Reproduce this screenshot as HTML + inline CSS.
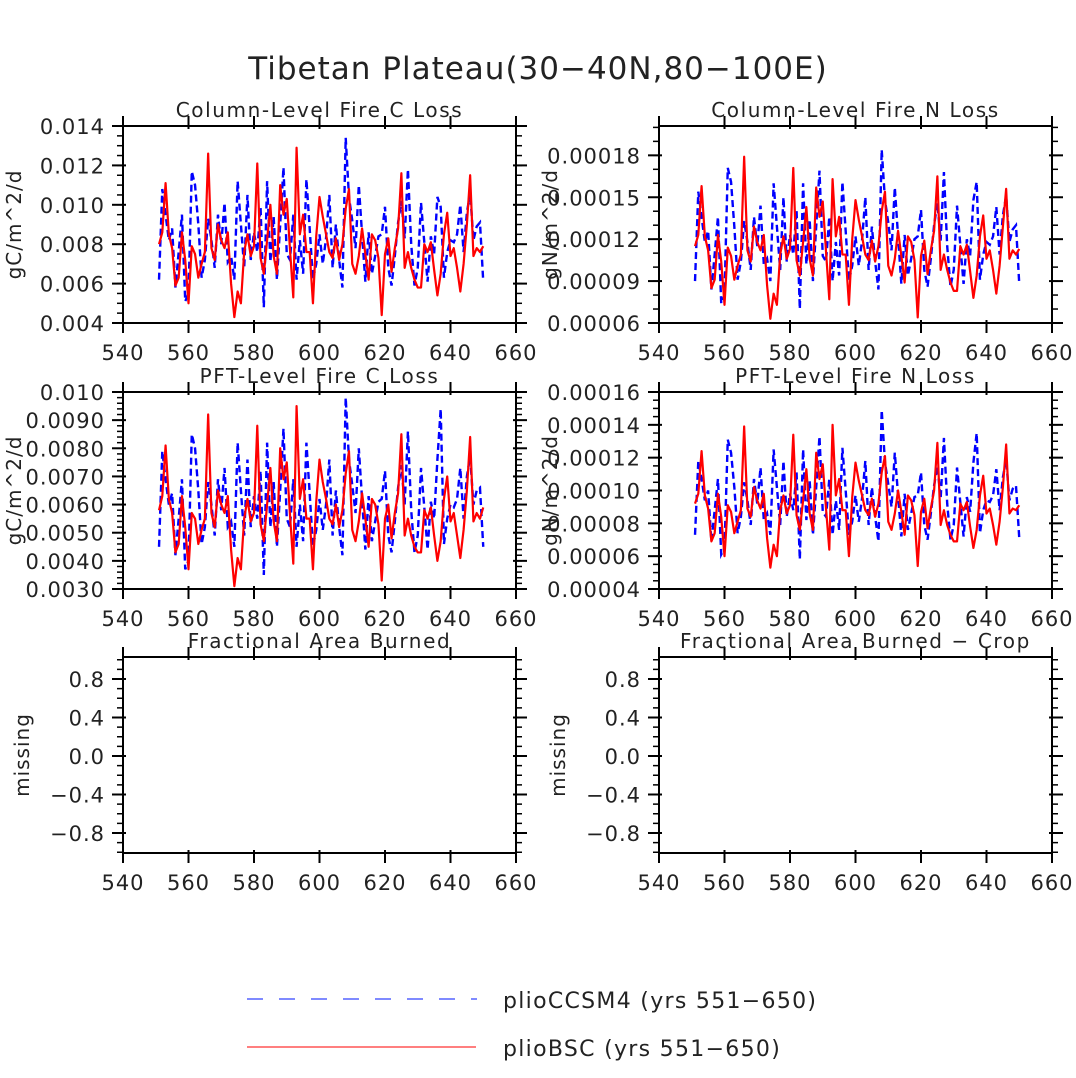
<!DOCTYPE html>
<html><head><meta charset="utf-8"><style>
body{margin:0;background:#fff}
svg{display:block;font-family:"DejaVu Sans","Liberation Sans",sans-serif}
</style></head><body>
<svg id="c" width="1076" height="1078" viewBox="0 0 1076 1078">
<text x="538" y="79" text-anchor="middle" font-size="31" fill="#222" letter-spacing="1">Tibetan Plateau(30−40N,80−100E)</text>
<g id="panels"></g>
<g>
<line x1="247" y1="999" x2="477" y2="999" stroke="#3344ff" stroke-width="1.3" stroke-dasharray="16,16"/>
<text x="503" y="1008" font-size="22" fill="#222" letter-spacing="1.3">plioCCSM4 (yrs 551−650)</text>
<line x1="247" y1="1047" x2="476" y2="1047" stroke="#ff3333" stroke-width="1.3"/>
<text x="503" y="1056" font-size="22" fill="#222" letter-spacing="1.3">plioBSC (yrs 551−650)</text>
</g>
</svg>
<script>
const years = Array.from({length:100},(_,i)=>551+i);
const xTicks = [540,560,580,600,620,640,660];
// Panel 1: Column-level fire C loss (x1e-3)
const p1Red = [8.0,8.6,11.1,8.5,7.8,5.9,6.3,8.6,7.2,5.0, 7.9,7.5,6.3,7.0,7.6,12.6,7.8,7.2,9.0,8.2, 7.8,8.6,6.0,4.3,5.6,5.0,7.6,8.5,7.4,7.9, 12.1,7.3,6.5,8.2,10.0,7.4,6.5,11.0,9.5,10.3, 7.7,5.3,12.9,8.5,9.5,7.6,7.6,5.0,8.4,10.4, 9.4,8.5,7.6,7.3,8.3,7.2,8.0,9.8,10.8,7.0, 6.5,7.4,8.8,7.5,6.2,8.5,8.2,7.3,4.4,7.5, 8.3,6.6,7.8,8.8,11.6,6.8,7.6,6.8,6.2,5.8, 5.8,8.0,7.6,8.1,6.7,5.4,6.5,8.5,9.6,7.4, 7.8,6.8,5.6,7.0,9.0,11.5,7.4,7.8,7.6,7.9];
const p1Blue = [6.2,10.8,9.5,8.2,8.8,5.8,7.6,9.5,5.1,5.5, 11.7,11.0,9.0,6.3,7.2,9.3,8.2,6.8,9.5,8.0, 10.1,7.1,7.4,6.2,11.2,9.0,6.8,10.5,7.2,8.6, 7.6,9.9,4.8,11.2,7.1,9.4,6.2,9.0,11.9,7.5, 7.2,9.5,6.2,8.2,6.5,11.3,8.8,6.2,7.0,8.5, 7.0,8.3,10.5,6.8,9.0,7.2,5.8,13.4,10.4,9.2, 7.8,11.0,8.5,6.1,8.6,6.5,7.4,8.4,8.5,9.9, 6.8,5.9,7.4,9.1,10.2,8.3,11.8,8.0,5.9,6.8, 10.1,8.1,6.1,8.4,7.5,10.4,9.9,6.3,7.6,8.2, 8.1,8.5,10.0,7.6,9.6,10.6,8.2,8.9,9.1,6.1];
const p1Ticks = ["0.004","0.006","0.008","0.010","0.012","0.014"];
// Panel 2: Column-level fire N loss (x1e-5)
const p2Red = [11.5,12.3,15.8,12.2,11.2,8.5,9.1,12.3,10.4,7.3, 11.4,10.8,9.1,10.1,10.9,17.9,11.2,10.4,12.9,11.8, 11.2,12.3,8.7,6.3,8.1,7.3,10.9,12.2,10.6,11.3, 17.1,10.5,9.4,11.8,14.3,10.6,9.4,15.7,13.6,14.7, 11.1,7.7,16.3,12.2,13.6,10.9,10.9,7.3,12.0,14.8, 13.4,12.2,10.9,10.5,11.9,10.4,11.5,14.0,15.4,10.1, 9.4,10.6,12.6,10.8,8.9,12.2,11.8,10.5,6.4,10.8, 11.9,9.5,11.2,12.6,16.5,9.8,10.9,9.8,8.9,8.3, 8.3,11.5,10.9,11.6,9.7,7.8,9.4,12.2,13.7,10.6, 11.2,9.8,8.1,10.1,12.9,15.6,10.6,11.2,10.9,11.3];
const p2Blue = [9.0,15.4,13.6,11.8,12.6,8.4,10.9,13.6,7.4,8.0, 17.1,16.1,12.9,9.1,10.4,13.3,11.8,9.8,13.6,11.5, 14.4,10.2,10.6,9.0,16.0,12.9,9.8,15.0,10.4,12.3, 10.9,14.1,7.0,16.0,10.2,13.4,9.0,12.9,16.9,10.8, 10.4,13.6,9.0,11.8,9.4,16.1,12.6,9.0,10.1,12.2, 10.1,11.9,15.0,9.8,12.9,10.4,8.4,18.4,14.8,13.2, 11.2,15.7,12.2,8.8,12.3,9.4,10.6,12.0,12.2,14.1, 9.8,8.6,10.6,13.0,14.6,11.9,16.8,11.5,8.6,9.8, 14.4,11.6,8.8,12.0,10.8,14.8,16.1,9.1,10.9,11.8, 11.6,12.2,14.3,10.9,13.7,15.1,11.8,12.7,13.0,8.8];
const p2Ticks = ["0.00006","0.00009","0.00012","0.00015","0.00018"];
// Panel 3: PFT-level fire C loss (x1e-3)
const p3Red = [5.8,6.3,8.1,6.2,5.7,4.3,4.6,6.3,5.2,3.7, 5.7,5.5,4.6,5.1,5.5,9.2,5.7,5.2,6.5,6.0, 5.7,6.3,4.4,3.1,4.1,3.7,5.5,6.2,5.4,5.7, 8.8,5.3,4.7,6.0,7.3,5.4,4.7,8.0,6.9,7.5, 5.6,3.9,9.5,6.2,6.9,5.5,5.5,3.7,6.1,7.6, 6.8,6.2,5.5,5.3,6.0,5.2,5.8,7.1,7.9,5.1, 4.7,5.4,6.4,5.5,4.5,6.2,6.0,5.3,3.3,5.5, 6.0,4.8,5.7,6.4,8.5,4.9,5.5,4.9,4.5,4.3, 4.3,5.8,5.5,5.9,4.9,4.0,4.7,6.2,7.0,5.4, 5.7,4.9,4.1,5.1,6.5,8.4,5.4,5.7,5.5,5.9];
const p3Blue = [4.5,7.9,6.9,6.0,6.4,4.2,5.5,6.9,3.7,4.0, 8.5,8.0,6.5,4.6,5.2,6.8,6.0,4.9,6.9,5.8, 7.3,5.2,5.4,4.5,8.2,6.5,4.9,7.6,5.2,6.3, 5.5,7.2,3.5,8.2,5.2,6.8,4.5,6.5,8.7,5.5, 5.2,6.9,4.5,6.0,4.7,8.2,6.4,4.5,5.1,6.2, 5.1,6.0,7.6,4.9,6.5,5.2,4.2,9.8,7.6,6.7, 5.7,8.0,6.2,4.4,6.3,4.7,5.4,6.1,6.2,7.2, 4.9,4.3,5.4,6.6,7.4,6.0,8.6,5.8,4.3,4.9, 7.3,5.9,4.4,6.1,5.5,7.6,9.4,4.6,5.5,6.0, 5.9,6.2,7.3,5.5,7.0,7.7,6.0,6.5,6.6,4.5];
const p3Ticks = ["0.0030","0.0040","0.0050","0.0060","0.0070","0.0080","0.0090","0.010"];
// Panel 4: PFT-level fire N loss (x1e-5)
const p4Red = [9.2,9.8,12.4,9.7,8.9,6.9,7.4,9.8,8.4,6.0, 9.1,8.7,7.4,8.1,8.8,13.9,8.9,8.4,10.2,9.4, 8.9,9.8,7.1,5.3,6.7,6.0,8.8,9.7,8.6,9.1, 13.4,8.5,7.6,9.4,11.3,8.6,7.6,12.3,10.7,11.6, 8.9,6.4,14.0,9.7,10.7,8.8,8.8,6.0,9.6,11.7, 10.6,9.7,8.8,8.5,9.5,8.4,9.2,11.1,12.1,8.1, 7.6,8.6,10.0,8.7,7.3,9.7,9.4,8.5,5.4,8.7, 9.5,7.7,8.9,10.0,12.9,7.9,8.8,7.9,7.3,6.9, 6.9,9.2,8.8,9.3,7.8,6.5,7.6,9.7,10.9,8.6, 8.9,7.9,6.7,8.1,10.2,12.8,8.6,8.9,8.8,9.1];
const p4Blue = [7.3,11.8,10.7,9.4,10.0,6.9,8.8,10.7,6.1,6.5, 13.1,12.3,10.2,7.4,8.4,10.5,9.4,7.9,10.7,9.2, 11.4,8.2,8.6,7.3,12.5,10.2,7.9,11.8,8.4,9.8, 8.8,11.1,5.8,12.5,8.2,10.6,7.3,10.2,13.3,8.7, 8.4,10.7,7.3,9.4,7.6,12.6,10.0,7.3,8.1,9.7, 8.1,9.5,11.8,7.9,10.2,8.4,6.9,14.9,11.7,10.4, 9.0,12.3,9.7,7.2,9.8,7.6,8.6,9.6,9.7,11.1, 7.9,7.0,8.6,10.3,11.5,9.5,13.2,9.2,7.0,7.9, 11.4,9.3,7.2,9.6,8.7,11.7,13.5,7.4,8.8,9.4, 9.3,9.7,11.3,8.8,10.8,11.9,9.4,10.1,10.3,7.1];
const p4Ticks = ["0.00004","0.00006","0.00008","0.00010","0.00012","0.00014","0.00016"];
const p5Ticks = ["−0.8","−0.4","0.0","0.4","0.8"];

const NS="http://www.w3.org/2000/svg";
const root=document.getElementById('panels');
function mk(tag,attrs,parent){const e=document.createElementNS(NS,tag);for(const k in attrs)e.setAttribute(k,attrs[k]);parent.appendChild(e);return e;}

const panels=[
 {key:'column-c',title:'Column-Level Fire C Loss',ylab:'gC/m^2/d',x0:123,top:126,bot:323,ymin:4,ymax:14,tickVals:[4,6,8,10,12,14],ticks:p1Ticks,minor:0.5,red:p1Red,blue:p1Blue},
 {key:'column-n',title:'Column-Level Fire N Loss',ylab:'gN/m^2/d',x0:659,top:126,bot:323,ymin:6,ymax:20.1,tickVals:[6,9,12,15,18],ticks:p2Ticks,minor:1,red:p2Red,blue:p2Blue},
 {key:'pft-c',title:'PFT-Level Fire C Loss',ylab:'gC/m^2/d',x0:123,top:392,bot:589,ymin:3,ymax:10,tickVals:[3,4,5,6,7,8,9,10],ticks:p3Ticks,minor:0.2,red:p3Red,blue:p3Blue},
 {key:'pft-n',title:'PFT-Level Fire N Loss',ylab:'gN/m^2/d',x0:659,top:392,bot:589,ymin:4,ymax:16,tickVals:[4,6,8,10,12,14,16],ticks:p4Ticks,minor:0.5,red:p4Red,blue:p4Blue},
 {key:'area-burned',title:'Fractional Area Burned',ylab:'missing',x0:123,top:657,bot:853,ymin:-1.0078,ymax:1.0286,tickVals:[-0.8,-0.4,0,0.4,0.8],ticks:p5Ticks,minor:0.1,red:null,blue:null},
 {key:'area-burned-crop',title:'Fractional Area Burned − Crop',ylab:'missing',x0:659,top:657,bot:853,ymin:-1.0078,ymax:1.0286,tickVals:[-0.8,-0.4,0,0.4,0.8],ticks:p5Ticks,minor:0.1,red:null,blue:null}
];
const W=393;
panels.forEach(p=>{
 const g=mk('g',{},root);
 
 
 const xs=v=>p.x0+(v-540)/120*W;
 const ys=v=>p.bot-(v-p.ymin)/(p.ymax-p.ymin)*(p.bot-p.top);
 const x1=p.x0+W;
 const clipId='clip-'+p.key;
 const cp=mk('clipPath',{id:clipId},g);mk('rect',{x:p.x0,y:p.top,width:W,height:p.bot-p.top},cp);
 if(p.blue){
  const pl=mk('polyline',{points:p.blue.map((v,i)=>xs(years[i])+','+ys(v)).join(' '),fill:'none',stroke:'#0000ff','stroke-width':2.4,'stroke-dasharray':'7,4','clip-path':'url(#'+clipId+')'},g);
  
  
 }
 if(p.red){
  const pl=mk('polyline',{points:p.red.map((v,i)=>xs(years[i])+','+ys(v)).join(' '),fill:'none',stroke:'#ff0000','stroke-width':2.2,'stroke-linejoin':'round','clip-path':'url(#'+clipId+')'},g);
  
  
 }
 const fr=mk('rect',{x:p.x0,y:p.top,width:W,height:p.bot-p.top,fill:'none',stroke:'#000','stroke-width':2},g);
 
 
 for(let v=540;v<=660;v+=20){
  const x=xs(v);
  mk('line',{x1:x,y1:p.bot-3,x2:x,y2:p.bot+10,stroke:'#000','stroke-width':2},g);
  mk('line',{x1:x,y1:p.top+3,x2:x,y2:p.top-10,stroke:'#000','stroke-width':2},g);
 }
 xTicks.forEach(v=>{
  const t=mk('text',{x:xs(v),y:p.bot+37,'text-anchor':'middle','font-size':21,fill:'#222','letter-spacing':1},g);
  t.textContent=String(v);
  
  
 });
 for(let v=Math.ceil(p.ymin/p.minor)*p.minor;v<=p.ymax+1e-9;v+=p.minor){
  const y=ys(v);
  mk('line',{x1:p.x0-6,y1:y,x2:p.x0,y2:y,stroke:'#000','stroke-width':1.5},g);
  mk('line',{x1:x1,y1:y,x2:x1+6,y2:y,stroke:'#000','stroke-width':1.5},g);
 }
 p.tickVals.forEach((v,i)=>{
  const y=ys(v);
  mk('line',{x1:p.x0-11,y1:y,x2:p.x0+3,y2:y,stroke:'#000','stroke-width':2},g);
  mk('line',{x1:x1-3,y1:y,x2:x1+11,y2:y,stroke:'#000','stroke-width':2},g);
  const t=mk('text',{x:p.x0-18,y:y+8,'text-anchor':'end','font-size':21,fill:'#222','letter-spacing':1},g);
  t.textContent=p.ticks[i];
  
  
 });
 const tt=mk('text',{x:p.x0+W/2,y:p.top-9,'text-anchor':'middle','font-size':20,fill:'#222','letter-spacing':1.6},g);
 tt.textContent=p.title;
 
 
 const yl=p.ylab==='missing'?p.x0-94:p.x0-102;
 const cy=(p.top+p.bot)/2;
 const yt=mk('text',{x:yl,y:cy,'text-anchor':'middle','font-size':20,fill:'#222','letter-spacing':1,transform:'rotate(-90 '+yl+' '+cy+')'},g);
 yt.textContent=p.ylab;
 
 
});
</script>
</body></html>
